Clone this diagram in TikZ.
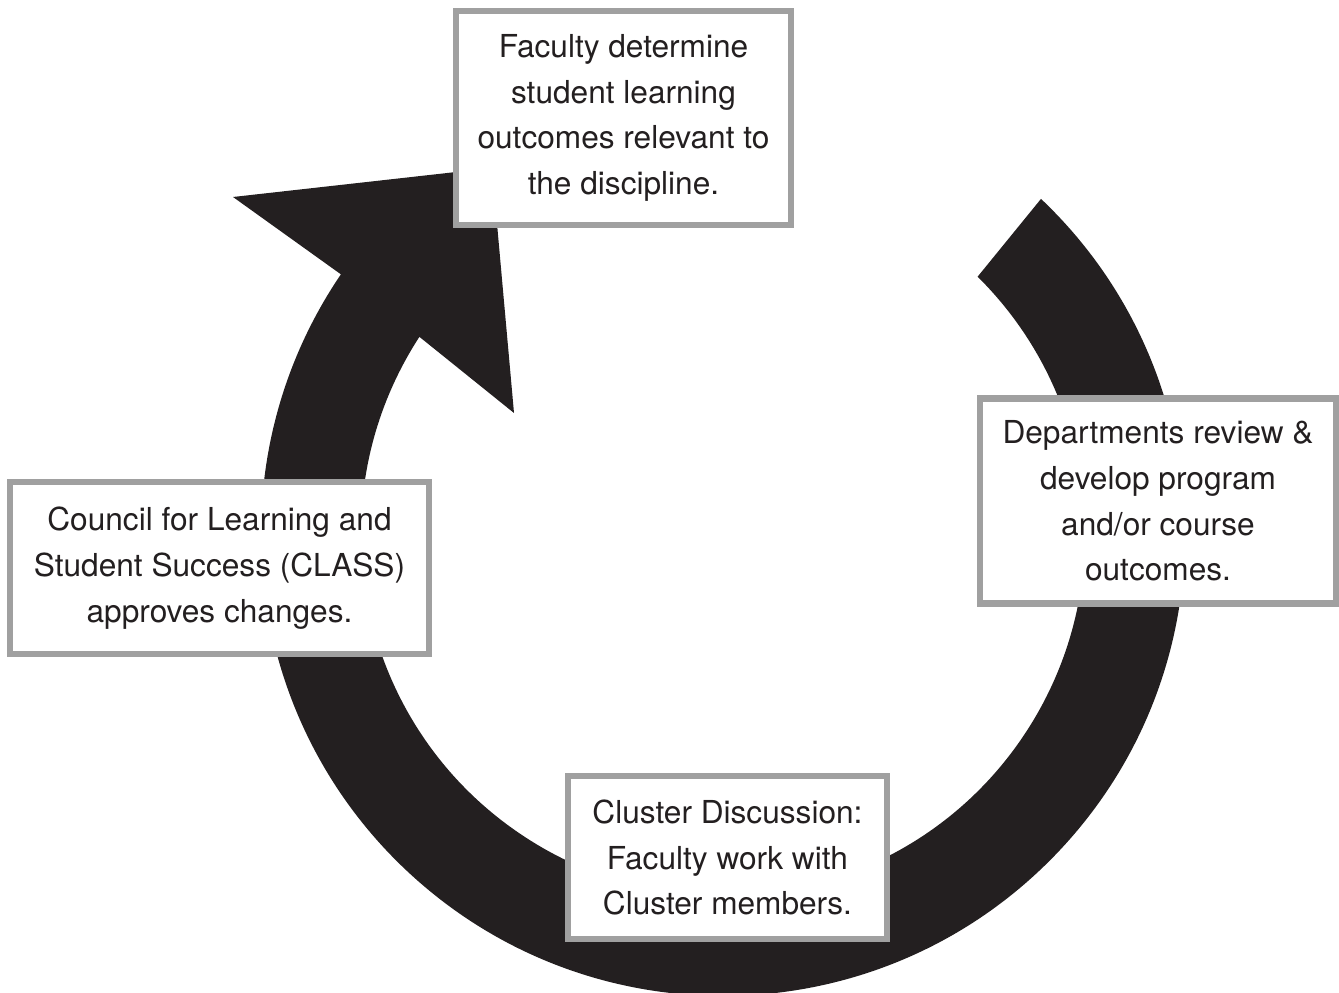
\documentclass[tikz,border=0pt]{standalone}
\usepackage{fontspec}
\setmainfont{TeX Gyre Heros}
\usetikzlibrary{calc}

\begin{document}
\begin{tikzpicture}
% Define cycle colours
\definecolor{cyclefill}{RGB}{35,31,32}
\definecolor{boxline}{RGB}{160,160,160}
\tikzset{stepbox/.style={draw=boxline,line width=1.8pt,fill=white,text=cyclefill,
  align=center,inner sep=0pt,font=\fontsize{9}{13}\selectfont}}

% Fix the page size
\useasboundingbox (0,0) rectangle (13.39,9.93);

% Draw circular arrow
\coordinate (ctr) at (7.23,4.59);
\fill[cyclefill] ($(ctr)+(46.5:4.62)$) arc[start angle=46.5,end angle=-214.2,radius=4.62]
  -- (2.33,7.96) -- (4.92,8.25) -- (5.14,5.80)
  -- ($(ctr)+(147:3.62)$) arc[start angle=-213,end angle=45.3,radius=3.62] -- cycle;

% Draw steps
\node[stepbox,minimum width=3.35cm,minimum height=2.14cm] (faculty) at (6.235,8.75)
  {Faculty determine\\student learning\\outcomes relevant to\\the discipline.};
\node[stepbox,minimum width=3.56cm,minimum height=2.05cm] (departments) at (11.58,4.92)
  {Departments review \&\\develop program\\and/or course\\outcomes.};
\node[stepbox,minimum width=3.19cm,minimum height=1.625cm] (cluster) at (7.275,1.355)
  {Cluster Discussion:\\Faculty work with\\Cluster members.};
\node[stepbox,minimum width=4.19cm,minimum height=1.72cm] (council) at (2.195,4.25)
  {Council for Learning and\\Student Success (CLASS)\\approves changes.};
\end{tikzpicture}
\end{document}
